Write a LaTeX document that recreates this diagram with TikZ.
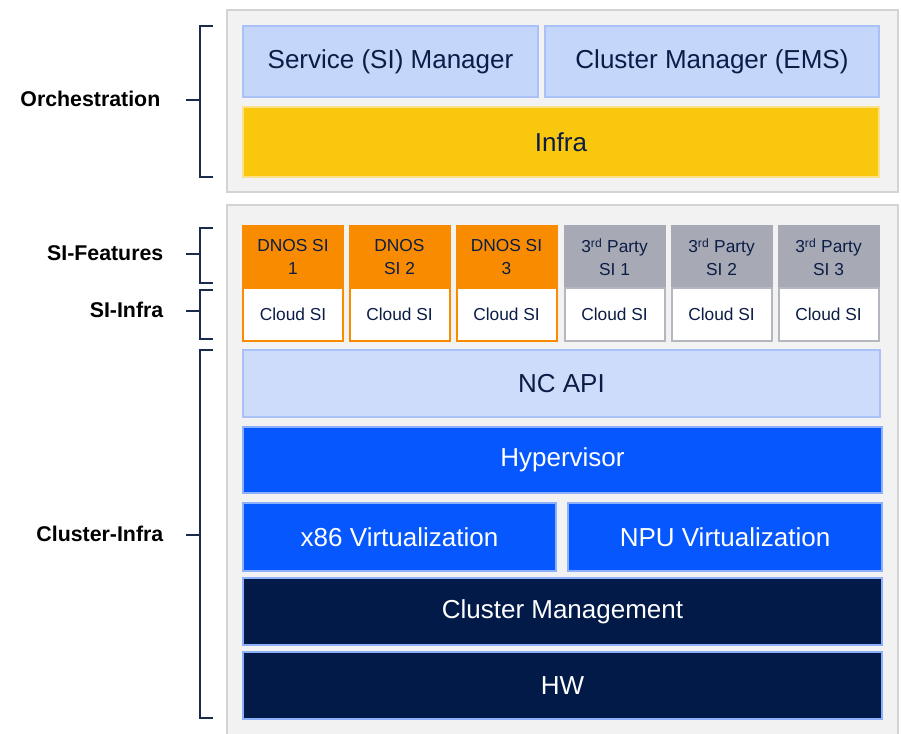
\documentclass[tikz,border=0pt]{standalone}
\usepackage{fontspec}
\setmainfont{Liberation Sans}
\definecolor{panelbg}{HTML}{F2F2F2}
\definecolor{panelln}{HTML}{D3D3D3}
\definecolor{lblue}{HTML}{C5D6FB}
\definecolor{lblueln}{HTML}{A9C1F7}
\definecolor{ncblue}{HTML}{CDDCFB}
\definecolor{infray}{HTML}{F9C70E}
\definecolor{infrayln}{HTML}{FCE08A}
\definecolor{dnos}{HTML}{F88B00}
\definecolor{third}{HTML}{A7AAB5}
\definecolor{thirdln}{HTML}{B4B7C0}
\definecolor{hblue}{HTML}{0657FE}
\definecolor{hblueln}{HTML}{8DB0FA}
\definecolor{navy}{HTML}{011A47}
\definecolor{txtnavy}{HTML}{0B1D46}
\definecolor{brk}{HTML}{1B2B4B}
\tikzset{
  panel/.style={draw=panelln, fill=panelbg, line width=1pt, inner sep=0pt},
  box/.style={line width=1.5pt, inner sep=0pt, align=center},
  big/.style={font=\fontsize{19.5}{23}\selectfont},
  small/.style={font=\fontsize{13}{17}\selectfont, minimum width=75pt},
  side/.style={font=\bfseries\fontsize{16}{19}\selectfont, anchor=east},
  bracket/.style={draw=brk, line width=1pt}
}
\begin{document}
\begin{tikzpicture}[x=0.75pt,y=-0.75pt]
	\useasboundingbox (0,0) rectangle (901,734);

	\node[panel, minimum width=503.25pt, minimum height=136.5pt](top) at (562.5,101) {};
	\node[panel, minimum width=503.25pt, minimum height=398.25pt](bot) at (562.5,470.5) {};

	\node[box, big, draw=lblueln, fill=lblue, text=txtnavy, minimum width=221.25pt, minimum height=53.25pt](svcmgr) at (390.5,61.5) {Service (SI) Manager};
	\node[box, big, draw=lblueln, fill=lblue, text=txtnavy, minimum width=250.5pt, minimum height=53.25pt](clmgr) at (712,61.5) {Cluster Manager (EMS)};
	\node[box, big, draw=infrayln, fill=infray, text=txtnavy, minimum width=477pt, minimum height=52.5pt](infra) at (561,142) {Infra};

	\node[box, small, draw=dnos, fill=dnos, text=txtnavy, minimum height=46.5pt](si1) at (293,257) {DNOS SI\\1};
	\node[box, small, draw=dnos, fill=dnos, text=txtnavy, minimum height=46.5pt](si2) at (399.5,257) {DNOS\\SI 2};
	\node[box, small, draw=dnos, fill=dnos, text=txtnavy, minimum height=46.5pt](si3) at (506.5,257) {DNOS SI\\3};
	\node[box, small, draw=third, fill=third, text=txtnavy, minimum height=46.5pt](si4) at (614.5,257) {3\textsuperscript{rd} Party\\SI 1};
	\node[box, small, draw=third, fill=third, text=txtnavy, minimum height=46.5pt](si5) at (721.5,257) {3\textsuperscript{rd} Party\\SI 2};
	\node[box, small, draw=third, fill=third, text=txtnavy, minimum height=46.5pt](si6) at (828.5,257) {3\textsuperscript{rd} Party\\SI 3};

	\node[box, small, draw=dnos, fill=white, text=txtnavy, minimum height=39.75pt](cloud1) at (293,314.5) {Cloud SI};
	\node[box, small, draw=dnos, fill=white, text=txtnavy, minimum height=39.75pt](cloud2) at (399.5,314.5) {Cloud SI};
	\node[box, small, draw=dnos, fill=white, text=txtnavy, minimum height=39.75pt](cloud3) at (506.5,314.5) {Cloud SI};
	\node[box, small, draw=thirdln, fill=white, text=txtnavy, minimum height=39.75pt](cloud4) at (614.5,314.5) {Cloud SI};
	\node[box, small, draw=thirdln, fill=white, text=txtnavy, minimum height=39.75pt](cloud5) at (721.5,314.5) {Cloud SI};
	\node[box, small, draw=thirdln, fill=white, text=txtnavy, minimum height=39.75pt](cloud6) at (828.5,314.5) {Cloud SI};

	\node[box, big, draw=lblueln, fill=ncblue, text=txtnavy, minimum width=477.75pt, minimum height=50.25pt](ncapi) at (561.5,383.5) {NC API};
	\node[box, big, draw=hblueln, fill=hblue, text=white, minimum width=479.25pt, minimum height=49.5pt](hyper) at (562.5,460) {Hypervisor};
	\node[box, big, draw=hblueln, fill=hblue, text=white, minimum width=234.75pt, minimum height=51pt](xvirt) at (399.5,537) {x86 Virtualization};
	\node[box, big, draw=hblueln, fill=hblue, text=white, minimum width=235.5pt, minimum height=51pt](npuvirt) at (725,537) {NPU Virtualization};
	\node[box, big, draw=hblueln, fill=navy, text=white, minimum width=479.25pt, minimum height=50.25pt](clmgmt) at (562.5,611.5) {Cluster Management};
	\node[box, big, draw=hblueln, fill=navy, text=white, minimum width=479.25pt, minimum height=50.25pt](hw) at (562.5,685.5) {HW};

	\node[side](lorch) at (165,99) {Orchestration};
	\node[side](lfeat) at (168,253) {SI-Features};
	\node[side](linfra) at (168,310) {SI-Infra};
	\node[side](lclus) at (168,534) {Cluster-Infra};

	\draw[bracket] (213,26) -- (200,26) -- (200,177) -- (213,177);
	\draw[bracket] (186,100) -- (200,100);
	\draw[bracket] (213,228) -- (200,228) -- (200,283) -- (213,283);
	\draw[bracket] (186,254) -- (200,254);
	\draw[bracket] (213,290) -- (200,290) -- (200,339) -- (213,339);
	\draw[bracket] (186,311) -- (200,311);
	\draw[bracket] (213,350) -- (200,350) -- (200,718) -- (213,718);
	\draw[bracket] (186,535) -- (200,535);
\end{tikzpicture}
\end{document}
